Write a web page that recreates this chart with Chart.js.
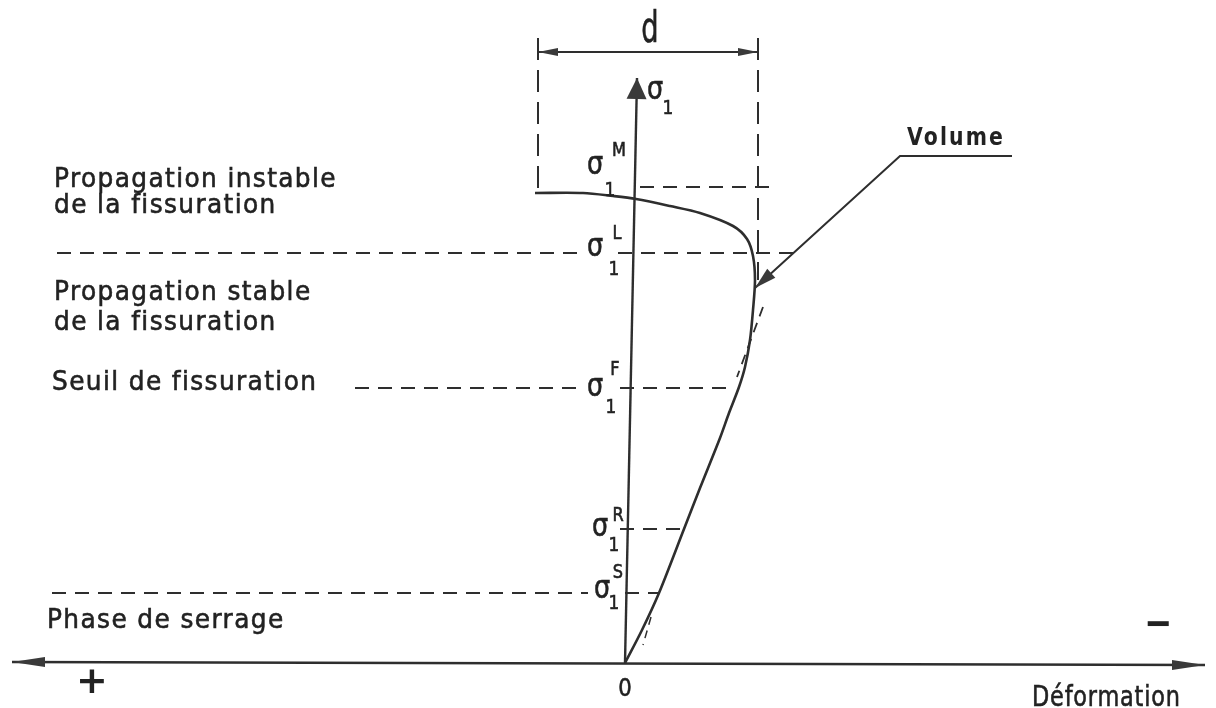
<!DOCTYPE html>
<html>
<head>
<meta charset="utf-8">
<script src="https://cdn.jsdelivr.net/npm/chart.js@4/dist/chart.umd.min.js"></script>
<style>
  html, body { margin: 0; padding: 0; background: #ffffff; overflow: hidden; }
  #wrap { width: 1216px; height: 708px; position: relative; }
</style>
</head>
<body>
<div id="wrap"><canvas id="c"></canvas></div>
<script>
// ---- Data (schematic units: x = deformation (+ to the left), y = σ1) ----
const volumeStrain = [90, 42, 12, -11, -45, -75, -108, -122, -128, -130, -128, -125, -120, -114, -104, -95, -75, -59, -34, -17, 0];
const volumeStress = [470, 470, 467, 464, 457, 450, 437, 424, 407, 383, 353, 323, 296, 276, 250, 225, 175, 134, 70, 33, 0];

const levelNames  = ['M', 'L', 'F', 'R', 'S'];
const levelStress = [476, 410, 275, 134, 70];
const levelSegments = [
  [[-15, -150]],
  [[568, 45], [7, -175]],
  [[270, 43], [5, -103]],
  [[5, -57]],
  [[573, 37], [0, -33]]
];

const strainAxisX = [613, -580], strainAxisY = [1, -2];
const stressAxisX = [0, -12],    stressAxisY = [0, 585];

const dBoxX = [87, -133];
const dBoxTop = 625;
const dBoxBottom = [470, 383];
const dArrowY = 611;

const leaderX = [-387, -275, -130];
const leaderY = [507, 507, 375];

const tangentUpperX = [-138, -112], tangentUpperY = [356, 286];
const tangentLowerX = [-26, -18],   tangentLowerY = [46, 18];

const INK = '#2e2e2e';
const pts = (xs, ys) => xs.map((x, i) => ({ x: x, y: ys[i] }));

const datasets = [];
function line(xs, ys, extra) {
  datasets.push(Object.assign({
    data: pts(xs, ys), showLine: true, pointRadius: 0, borderColor: INK,
    borderWidth: 2, tension: 0, fill: false
  }, extra || {}));
}
// axes
line(strainAxisX, strainAxisY, { borderWidth: 2.4, arrow: { start: true, end: true, length: 33, width: 5 } });
line(stressAxisX, stressAxisY, { borderWidth: 2.4, arrow: { end: true, length: 21, width: 10 } });
// volume curve
line(volumeStrain, volumeStress, { borderWidth: 2.6, tension: 0.3 });
// stress levels (dashed)
levelSegments.forEach((segs, i) => {
  segs.forEach(s => line(s, [levelStress[i], levelStress[i]], { borderWidth: 1.8, borderDash: [14, 9] }));
});
// d dimension box
dBoxX.forEach((x, i) => line([x, x], [dBoxTop, dBoxBottom[i]], { borderWidth: 2, borderDash: [22, 10] }));
line(dBoxX, [dArrowY, dArrowY], { borderWidth: 2, arrow: { start: true, end: true, length: 20, width: 4 } });
// tangents
line(tangentUpperX, tangentUpperY, { borderWidth: 1.8, borderDash: [10, 7] });
line(tangentLowerX, tangentLowerY, { borderWidth: 1.5, borderDash: [8, 6] });
// Volume leader
line(leaderX, leaderY, { borderWidth: 2, arrow: { end: true, length: 22, width: 6 } });

// ---- Text annotations (anchored in data coordinates) ----
const F = '"DejaVu Sans", sans-serif';
const texts = [
  { t: 'Propagation instable', x: 571, y: 476, size: 27 },
  { t: 'de la fissuration',    x: 571, y: 450, size: 27 },
  { t: 'Propagation stable',   x: 571, y: 363, size: 27 },
  { t: 'de la fissuration',    x: 571, y: 333, size: 27 },
  { t: 'Seuil de fissuration', x: 573, y: 273, size: 27 },
  { t: 'Phase de serrage',     x: 578, y: 35,  size: 27 },
  { t: 'Déformation',          x: -407, y: -43, size: 28, sx: 0.8, sp: 1 },
  { t: 'Volume',               x: -282, y: 518, size: 24, bold: true, sx: 0.85, sp: 2.5 },
  { t: '0',                    x: 0, y: -33, size: 25, align: 'center', sx: 0.85, sp: 0 },
  { t: '+',                    x: 533, y: -20, size: 38, bold: true, align: 'center', base: 'middle', sx: 1, sp: 0 },
  { t: '−',                    x: -533, y: 37, size: 42, bold: true, align: 'center', base: 'middle', sx: 0.8, sp: 0 },
  { t: 'd',                    x: -25, y: 621, size: 42, align: 'center', sx: 0.65, sp: 0 }
];
// σ1 labels: σ center, subscript center, superscript center
const sigmaLabels = [
  { s: [-30, 572], sub: [-43, 554], sup: null },
  { s: [30, 497], sup: [6, 512],  sub: [15, 472] },
  { s: [30, 415], sup: [8, 429],  sub: [11, 393] },
  { s: [30, 275], sup: [10, 293], sub: [14, 255] },
  { s: [25, 135], sup: [7, 147],  sub: [11, 117] },
  { s: [23, 73],  sup: [7, 90],   sub: [11, 59] }
];

const sketchPlugin = {
  id: 'sketch',
  afterDatasetsDraw(chart) {
    const ctx = chart.ctx;
    const xs = chart.scales.x, ys = chart.scales.y;
    ctx.save();
    chart.data.datasets.forEach((ds, i) => {
      if (!ds.arrow) return;
      const p = chart.getDatasetMeta(i).data;
      const head = (tip, from) => {
        const dx = tip.x - from.x, dy = tip.y - from.y;
        const len = Math.hypot(dx, dy);
        const ux = dx / len, uy = dy / len;
        const L = ds.arrow.length, W = ds.arrow.width;
        const bx = tip.x - ux * L, by = tip.y - uy * L;
        ctx.beginPath();
        ctx.moveTo(tip.x, tip.y);
        ctx.lineTo(bx - uy * W, by + ux * W);
        ctx.lineTo(bx + uy * W, by - ux * W);
        ctx.closePath();
        ctx.fillStyle = '#3a3a3a';
        ctx.fill();
      };
      if (ds.arrow.end) head(p[p.length - 1], p[p.length - 2]);
      if (ds.arrow.start) head(p[0], p[1]);
    });
    ctx.fillStyle = '#222222';
    ctx.strokeStyle = '#222222';
    const put = (str, x, y, size, opt) => {
      opt = opt || {};
      const sx = opt.sx === undefined ? 0.92 : opt.sx;
      ctx.save();
      ctx.font = (opt.bold ? 'bold ' : '') + size + 'px ' + F;
      ctx.textAlign = opt.align || 'left';
      ctx.textBaseline = opt.base || 'alphabetic';
      ctx.letterSpacing = (opt.sp === undefined ? 1.5 : opt.sp) + 'px';
      ctx.translate(xs.getPixelForValue(x), ys.getPixelForValue(y));
      ctx.scale(sx, 1);
      ctx.fillText(str, 0, 0);
      if (!opt.bold) { ctx.lineWidth = 0.6; ctx.strokeText(str, 0, 0); }
      ctx.restore();
    };
    texts.forEach(t => put(t.t, t.x, t.y, t.size, t));
    const lc = { align: 'center', base: 'middle', sp: 0, sx: 0.8 };
    const sc = { align: 'center', base: 'middle', sp: 0, sx: 0.85 };
    sigmaLabels.forEach((l, i) => {
      put('σ', l.s[0], l.s[1], 32, lc);
      put('1', l.sub[0], l.sub[1], 20, sc);
      if (l.sup) put(levelNames[i - 1], l.sup[0], l.sup[1], 19, sc);
    });
    ctx.restore();
  }
};

new Chart(document.getElementById('c'), {
  type: 'scatter',
  data: { datasets: datasets },
  options: {
    responsive: true,
    maintainAspectRatio: false,
    animation: false,
    layout: { padding: 0 },
    plugins: { legend: { display: false }, tooltip: { enabled: false } },
    scales: {
      x: { type: 'linear', reverse: true, min: -591, max: 625, display: false },
      y: { type: 'linear', min: -45, max: 663, display: false }
    }
  },
  plugins: [sketchPlugin]
});
</script>
</body>
</html>
